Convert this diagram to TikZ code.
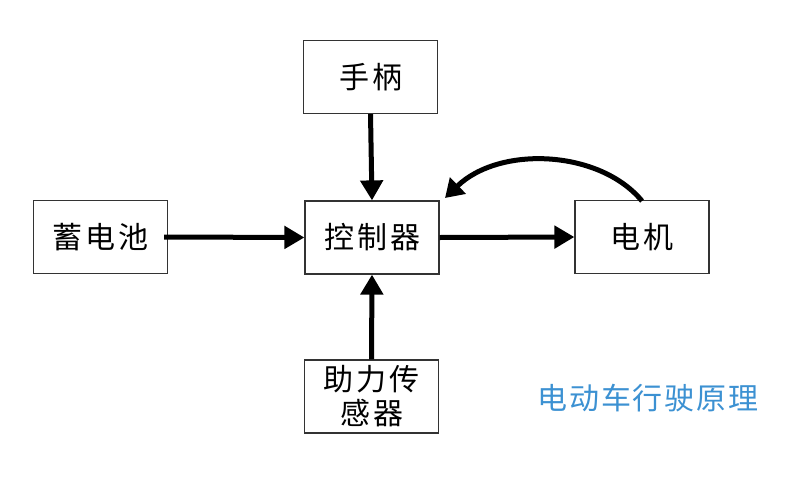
\documentclass[tikz,border=0pt]{standalone}
\usepackage{fontspec}
\newfontfamily\cjk{Noto Sans CJK SC}[LetterSpace=10]
\newfontfamily\cjktitle{Noto Sans CJK SC}[LetterSpace=6]
\definecolor{titleblue}{RGB}{60,145,210}
\usetikzlibrary{arrows.meta}
\begin{document}
\begin{tikzpicture}[x=1pt,y=-1pt,
  blk/.style={draw=black!80, line width=1.2pt, minimum width=134pt, minimum height=73pt, inner sep=0pt, font=\cjk\fontsize{30}{34}\selectfont, align=center},
  conn/.style={line width=5pt, -{Triangle[length=20pt,width=22pt]}}]
\useasboundingbox (0,0) rectangle (811,482);
\node[blk] (handle) at (370.5,77) {手柄};
\node[blk] (ctrl) at (372,237.5) {控制器};
\node[blk] (batt) at (100.5,237) {蓄\hspace{3pt}电\hspace{3pt}池};
\node[blk] (motor) at (642,237) {电机};
\node[blk] (sensor) at (371.5,396.5) {助力传\\感器};
\node[font=\cjktitle\fontsize{30}{33}\selectfont, text=titleblue] (title) at (648,398) {电动车行驶原理};
\draw[conn] (handle.south) -- (ctrl.north);
\draw[conn] ([xshift=-4pt]batt.east) -- (ctrl.west);
\draw[conn] (ctrl.east) -- (motor.west);
\draw[conn] (sensor.north) -- (ctrl.south);
\coordinate (cs) at (642,201);
\coordinate (ce) at (445,198);
\draw[line width=5pt, -{Triangle[length=18pt,width=22pt]}] (cs) .. controls (600,150) and (500,145) .. (ce);
\end{tikzpicture}
\end{document}
